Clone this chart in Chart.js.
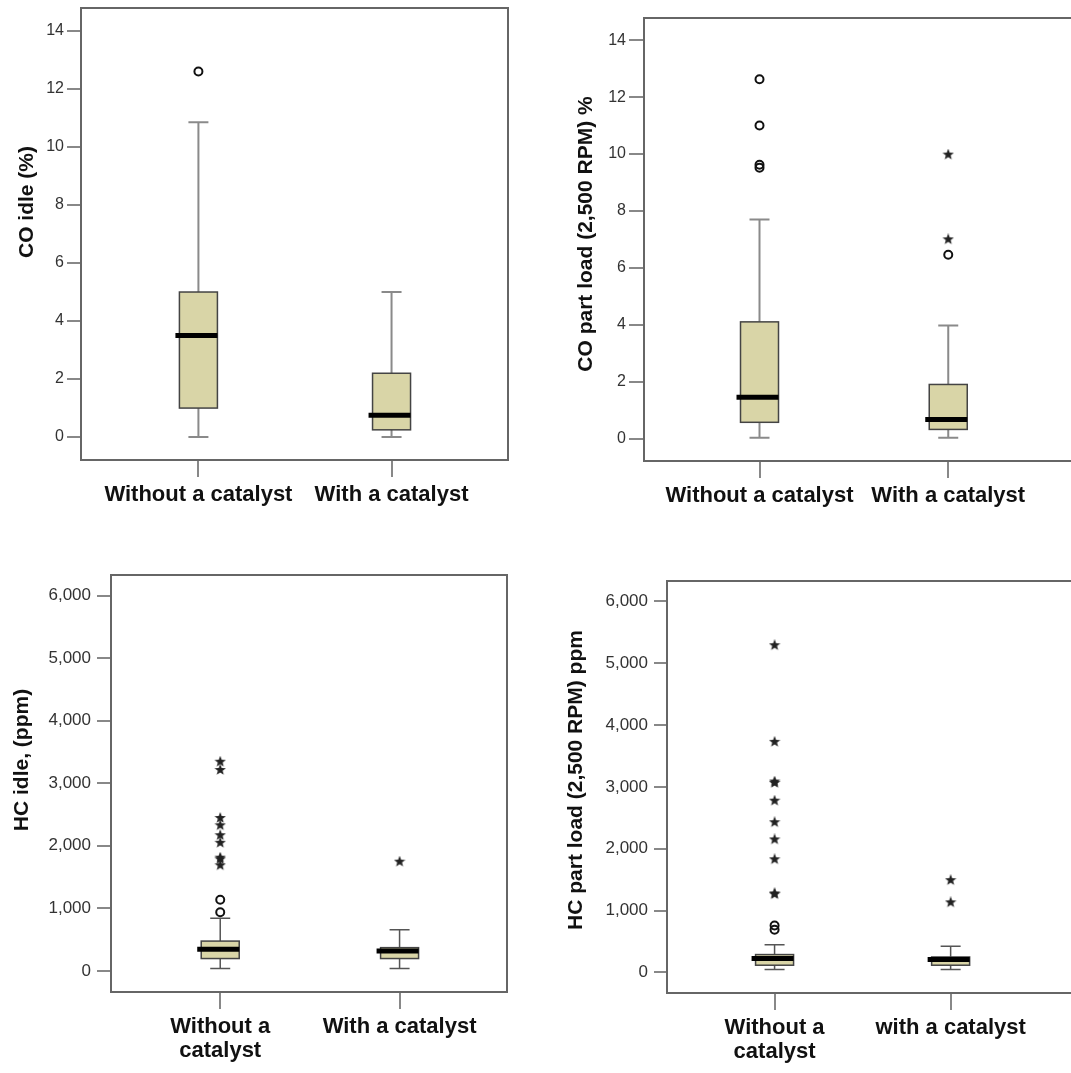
<!DOCTYPE html>
<html>
<head>
<meta charset="utf-8">
<script src="https://cdn.jsdelivr.net/npm/chart.js@4.4.0/dist/chart.umd.min.js"></script>
<style>
  html, body { margin: 0; padding: 0; background: #fff; overflow: hidden; width: 1071px; height: 1073px; }
  canvas { position: absolute; }
</style>
</head>
<body>
<canvas id="coIdle"></canvas>
<canvas id="coPart"></canvas>
<canvas id="hcIdle"></canvas>
<canvas id="hcPart"></canvas>
<script>
// ---- data ----
const categoriesTop = ['Without a catalyst', 'With a catalyst'];
const categoriesHcIdle = [['Without a', 'catalyst'], 'With a catalyst'];
const categoriesHcPart = [['Without a', 'catalyst'], 'with a catalyst'];

// each box: [lower whisker, Q1, median, Q3, upper whisker]
const coIdleBoxes = [[0, 1.0, 3.5, 5.0, 10.85], [0, 0.25, 0.75, 2.2, 5.0]];
const coIdleCircles = [[12.6], []];
const coIdleStars = [[], []];

const coPartBoxes = [[0.03, 0.57, 1.45, 4.1, 7.7], [0.03, 0.32, 0.67, 1.9, 3.97]];
const coPartCircles = [[12.63, 11.0, 9.62, 9.52], [6.46]];
const coPartStars = [[], [9.98, 7.0]];

const hcIdleBoxes = [[38, 197, 344, 476, 841], [38, 197, 317, 371, 657]];
const hcIdleCircles = [[937, 1138], []];
const hcIdleStars = [[3344, 3212, 2444, 2328, 2169, 2048, 1810, 1785, 1688], [1746]];

const hcPartBoxes = [[48, 117, 225, 289, 449], [48, 117, 208, 250, 422]];
const hcPartCircles = [[759, 690], []];
const hcPartStars = [[5288, 3727, 3085, 3062, 2776, 2428, 2150, 1829, 1277, 1265], [1492, 1133]];

const coTicks = [0, 2, 4, 6, 8, 10, 12, 14];
const hcTicks = [0, 1000, 2000, 3000, 4000, 5000, 6000];

const coIdleTitle = 'CO idle (%)';
const coPartTitle = 'CO part load (2,500 RPM) %';
const hcIdleTitle = 'HC idle, (ppm)';
const hcPartTitle = 'HC part load (2,500 RPM) ppm';

// ---- layout of the panels (page pixels) ----
const FONT = "'Liberation Sans', Arial, sans-serif";
const BOX_FILL = '#d9d5a7';

const panels = [
  { id: 'coIdle', cats: categoriesTop, boxes: coIdleBoxes, circles: coIdleCircles, stars: coIdleStars,
    ticks: coTicks, title: coIdleTitle, frame: [81, 6, 510, 460], yw: 81, xh: 55,
    yMin: -0.79, yMax: 14.79, xMin: 0.392, xMax: 2.603, titleX: 27, titleY: 202,
    tickSize: 16, tickLen: 14, tickPad: 3, whisker: '#8a8a8a', whiskerW: 2 },
  { id: 'coPart', cats: categoriesTop, boxes: coPartBoxes, circles: coPartCircles, stars: coPartStars,
    ticks: coTicks, title: coPartTitle, frame: [644, 15, 1076, 461], yw: 108, xh: 55,
    yMin: -0.79, yMax: 14.78, xMin: 0.388, xMax: 2.661, titleX: 586, titleY: 234,
    tickSize: 16, tickLen: 15, tickPad: 3, whisker: '#8a8a8a', whiskerW: 2 },
  { id: 'hcIdle', cats: categoriesHcIdle, boxes: hcIdleBoxes, circles: hcIdleCircles, stars: hcIdleStars,
    ticks: hcTicks, title: hcIdleTitle, frame: [111, 572, 510, 992], yw: 111, xh: 78,
    yMin: -338, yMax: 6329, xMin: 0.391, xMax: 2.599, titleX: 22.5, titleY: 760,
    tickSize: 17, tickLen: 14, tickPad: 6, whisker: '#555', whiskerW: 1.5 },
  { id: 'hcPart', cats: categoriesHcPart, boxes: hcPartBoxes, circles: hcPartCircles, stars: hcPartStars,
    ticks: hcTicks, title: hcPartTitle, frame: [667, 578, 1076, 993], yw: 131, xh: 78,
    yMin: -332, yMax: 6326, xMin: 0.389, xMax: 2.695, titleX: 576, titleY: 780,
    tickSize: 17, tickLen: 13, tickPad: 6, whisker: '#555', whiskerW: 1.5 }
];

function makeStar(size, color) {
  const c = document.createElement('canvas');
  c.width = c.height = size;
  const g = c.getContext('2d');
  const r = size / 2, ri = r * 0.42;
  g.beginPath();
  for (let k = 0; k < 10; k++) {
    const a = -Math.PI / 2 + k * Math.PI / 5;
    const rr = k % 2 ? ri : r;
    g.lineTo(r + rr * Math.cos(a), r + rr * Math.sin(a));
  }
  g.closePath();
  g.fillStyle = color;
  g.fill();
  return c;
}
const starImg = makeStar(12, '#222');

// draws frame, whiskers, boxes and medians through the chart scales
function boxPlugin(p, left, top) {
  return {
    id: 'boxplot_' + p.id,
    beforeDatasetsDraw(chart) {
      const { ctx, chartArea, scales: { x, y } } = chart;
      ctx.save();
      // frame
      ctx.strokeStyle = '#666';
      ctx.lineWidth = 2;
      ctx.strokeRect(chartArea.left, chartArea.top, chartArea.right - chartArea.left, chartArea.bottom - chartArea.top);

      const bw = 38, cap = 20;
      p.boxes.forEach((b, i) => {
        const cx = x.getPixelForValue(i + 1);
        const [lo, q1, med, q3, hi] = b.map(v => y.getPixelForValue(v));
        // whiskers
        ctx.strokeStyle = p.whisker;
        ctx.lineWidth = p.whiskerW;
        ctx.beginPath();
        ctx.moveTo(cx, hi); ctx.lineTo(cx, q3);
        ctx.moveTo(cx, q1); ctx.lineTo(cx, lo);
        ctx.moveTo(cx - cap / 2, hi); ctx.lineTo(cx + cap / 2, hi);
        ctx.moveTo(cx - cap / 2, lo); ctx.lineTo(cx + cap / 2, lo);
        ctx.stroke();
        // box
        ctx.fillStyle = BOX_FILL;
        ctx.fillRect(cx - bw / 2, q3, bw, q1 - q3);
        ctx.strokeStyle = '#444';
        ctx.lineWidth = 1.5;
        ctx.strokeRect(cx - bw / 2, q3, bw, q1 - q3);
        // median
        ctx.strokeStyle = '#000';
        ctx.lineWidth = 5;
        ctx.beginPath();
        ctx.moveTo(cx - bw / 2 - 4, med); ctx.lineTo(cx + bw / 2, med);
        ctx.stroke();
      });
      ctx.restore();
    },
    afterDraw(chart) {
      const ctx = chart.ctx;
      ctx.save();
      ctx.translate(p.titleX - left, p.titleY - top);
      ctx.rotate(-Math.PI / 2);
      ctx.font = 'bold 21px ' + FONT;
      ctx.fillStyle = '#111';
      ctx.textAlign = 'center';
      ctx.textBaseline = 'middle';
      ctx.fillText(p.title, 0, 0);
      ctx.restore();
    }
  };
}

panels.forEach(p => {
  const [fl, ft, fr, fb] = p.frame;
  const left = fl - p.yw, top = ft - 4;
  const canvas = document.getElementById(p.id);
  canvas.width = fr + 4 - left;
  canvas.height = fb - top + p.xh;
  canvas.style.left = left + 'px';
  canvas.style.top = top + 'px';

  const circlePts = [], starPts = [];
  p.circles.forEach((list, i) => list.forEach(v => circlePts.push({ x: i + 1, y: v })));
  p.stars.forEach((list, i) => list.forEach(v => starPts.push({ x: i + 1, y: v })));

  new Chart(canvas.getContext('2d'), {
    type: 'scatter',
    data: {
      datasets: [
        { label: 'Outliers', data: circlePts, pointStyle: 'circle', radius: 4,
          borderWidth: 2, borderColor: '#111', backgroundColor: 'rgba(0,0,0,0)' },
        { label: 'Extremes', data: starPts, pointStyle: starImg, radius: 6 }
      ]
    },
    options: {
      responsive: false,
      animation: false,
      layout: { padding: { top: 4, right: 4, left: 0, bottom: 0 } },
      plugins: { legend: { display: false }, tooltip: { enabled: false } },
      scales: {
        x: {
          type: 'linear',
          min: p.xMin,
          max: p.xMax,
          afterBuildTicks(s) { s.ticks = p.cats.map((c, i) => ({ value: i + 1 })); },
          afterFit(s) { s.height = p.xh; s.paddingLeft = 0; s.paddingRight = 0; },
          border: { display: false },
          grid: { drawOnChartArea: false, drawTicks: true, tickLength: 17, color: '#888', lineWidth: 2 },
          ticks: {
            padding: 6,
            maxRotation: 0,
            autoSkip: false,
            color: '#111',
            font: { family: FONT, size: 22, weight: 'bold', lineHeight: 1.1 },
            callback: (v, i) => p.cats[i]
          }
        },
        y: {
          type: 'linear',
          min: p.yMin,
          max: p.yMax,
          afterBuildTicks(s) { s.ticks = p.ticks.map(v => ({ value: v })); },
          afterFit(s) { s.width = p.yw; s.paddingTop = 0; s.paddingBottom = 0; },
          border: { display: false },
          grid: { drawOnChartArea: false, drawTicks: true, tickLength: p.tickLen, color: '#888', lineWidth: 2 },
          ticks: {
            padding: p.tickPad,
            color: '#333',
            font: { family: FONT, size: p.tickSize },
            callback: v => v.toLocaleString('en-US')
          }
        }
      }
    },
    plugins: [boxPlugin(p, left, top)]
  });
});
</script>
</body>
</html>
